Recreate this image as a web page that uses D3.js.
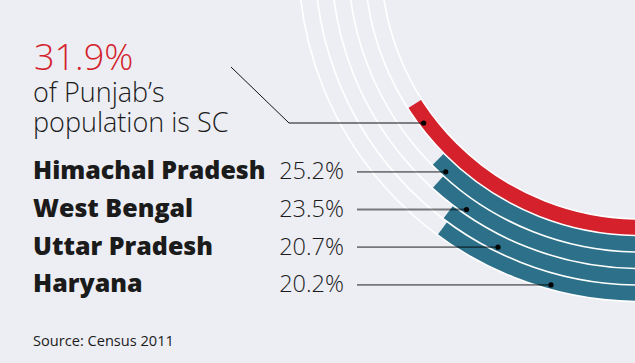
<!DOCTYPE html>
<html lang="en">
<head>
<meta charset="utf-8">
<title>SC population share</title>
<script src="https://cdn.jsdelivr.net/npm/d3@7"></script>
<style>
  html, body { margin: 0; padding: 0; background: #edeef4; }
  svg { display: block; }
  text { font-family: "Open Sans", sans-serif; fill: #1b1b1b; }
</style>
</head>
<body>
<div id="chart"></div>
<script>
// data (Census 2011, share of SC population, %)
var states = ["Punjab", "Himachal Pradesh", "West Bengal", "Uttar Pradesh", "Haryana"];
var shares = [31.9, 25.2, 23.5, 20.7, 20.2];
var headline = ["of Punjab\u2019s", "population is SC"];
var source = "Source: Census 2011";

var W = 635, H = 363;
var cx = 640, cy = -40;       // centre of the rings, just off the top right corner
var red = "#d4212b", teal = "#2c7189";

var data = states.map(function(s, i) { return { name: s, value: shares[i] }; });

var svg = d3.select("#chart").append("svg")
  .attr("width", W).attr("height", H);

svg.append("rect").attr("width", W).attr("height", H).attr("fill", "#edeef4");

// 0..100% -> half a turn, starting at 6 o'clock going clockwise
var angle = d3.scaleLinear().domain([0, 100]).range([0, Math.PI]);
var ring = d3.scaleBand().domain(states).range([259, 341.5]);
var colour = d3.scaleOrdinal().domain(states).range([red, teal, teal, teal, teal]);

var arc = d3.arc()
  .innerRadius(function(d) { return ring(d.name); })
  .outerRadius(function(d) { return ring(d.name) + ring.bandwidth(); })
  .startAngle(Math.PI)
  .endAngle(function(d) { return Math.PI + angle(d.value); });

var rings = svg.append("g").attr("transform", "translate(" + cx + "," + cy + ")");

rings.selectAll("path").data(data).enter().append("path")
  .attr("d", arc)
  .attr("fill", function(d) { return colour(d.name); });

// thin white guide circles on the ring boundaries
var bounds = states.map(function(s) { return ring(s); }).concat([ring.range()[1]]);
rings.selectAll("circle.guide").data(bounds).enter().append("circle")
  .attr("class", "guide")
  .attr("r", function(d) { return d; })
  .attr("fill", "none")
  .attr("stroke", "#fff")
  .attr("stroke-width", 1.6);

// where a horizontal leader at height y meets a ring
function dotX(d, y) {
  var r = ring(d.name) + ring.bandwidth() * 0.72;
  return cx - Math.sqrt(r * r - (y - cy) * (y - cy));
}

// headline block for Punjab
var lead = data[0];
svg.append("text").attr("x", 34).attr("y", 70)
  .style("font-size", "36px").style("font-weight", 300)
  .style("fill", red)
  .text(d3.format(".1f")(lead.value) + "%");
svg.selectAll("text.head").data(headline).enter().append("text")
  .attr("class", "head")
  .attr("x", 33).attr("y", function(d, i) { return 102 + i * 30; })
  .style("font-size", "27px").style("font-weight", 300)
  .text(function(d) { return d; });

var leadY = 123;
svg.append("polyline")
  .attr("points", [[231, 67], [289, leadY], [dotX(lead, leadY), leadY]].join(" "))
  .attr("fill", "none").attr("stroke", "#111").attr("stroke-width", 1);
svg.append("circle").attr("cx", dotX(lead, leadY)).attr("cy", leadY).attr("r", 2.6).attr("fill", "#000");

// the other states
var rest = data.slice(1);
var rowY = d3.scalePoint().domain(rest.map(function(d) { return d.name; })).range([179.3, 292.4]);

var row = svg.selectAll("g.row").data(rest).enter().append("g").attr("class", "row");

row.append("text")
  .attr("x", 33).attr("y", function(d) { return rowY(d.name); })
  .style("font-size", "25px").style("font-weight", 800)
  .text(function(d) { return d.name; });

row.append("text")
  .attr("x", 344).attr("y", function(d) { return rowY(d.name); })
  .attr("text-anchor", "end")
  .style("font-size", "23.5px").style("font-weight", 300)
  .text(function(d) { return d3.format(".1f")(d.value) + "%"; });

row.append("line")
  .attr("x1", 357)
  .attr("x2", function(d) { return dotX(d, rowY(d.name) - 7.5); })
  .attr("y1", function(d) { return rowY(d.name) - 7.5; })
  .attr("y2", function(d) { return rowY(d.name) - 7.5; })
  .attr("stroke", "#000").attr("stroke-opacity", 0.5).attr("stroke-width", 1.8);

row.append("circle")
  .attr("cx", function(d) { return dotX(d, rowY(d.name) - 7.5); })
  .attr("cy", function(d) { return rowY(d.name) - 7.5; })
  .attr("r", 2.6).attr("fill", "#000");

svg.append("text").attr("x", 33).attr("y", 346)
  .style("font-size", "14.6px").style("font-weight", 400)
  .text(source);
</script>
</body>
</html>
